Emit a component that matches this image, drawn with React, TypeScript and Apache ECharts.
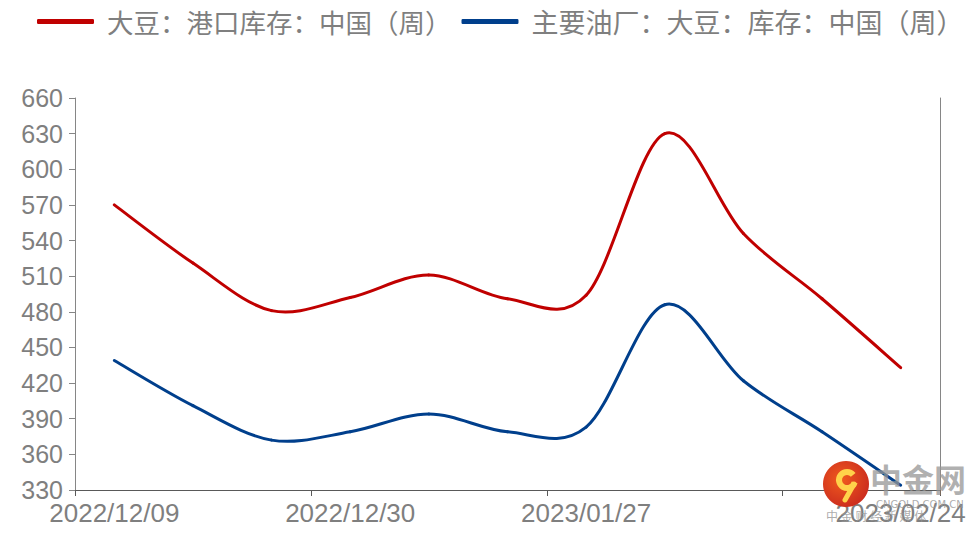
import React, { useEffect, useRef } from "react";
import * as echarts from "echarts";

const categories = [
  "2022/12/09", "2022/12/16", "2022/12/23", "2022/12/30", "2023/01/06",
  "2023/01/13", "2023/01/27", "2023/02/03", "2023/02/10", "2023/02/17", "2023/02/24",
];
const portStock = [570, 521, 481, 492, 511, 491, 494, 630, 546, 491, 433];
const millStock = [439, 401, 372, 379, 394, 379, 383, 486, 422, 379, 334];
const seriesNames = ["大豆：港口库存：中国（周）", "主要油厂：大豆：库存：中国（周）"];
const seriesColors = ["#C00000", "#003F8C"];
const labelIndexes = [0, 3, 6, 10];
const yMin = 330;
const yMax = 660;
const yStep = 30;

const axisFont = "'Liberation Sans', Arial, sans-serif";
const cjkFont = "'Noto Sans CJK SC', sans-serif";

// Smooth curve segment (Catmull-Rom style) between point i-1 and i, positioned by the axes
function makeRenderItem(values: number[], color: string) {
  return (params: any, api: any) => {
    const i = params.dataIndex;
    if (i === 0) return null;
    const n = values.length;
    const p = (k: number) => {
      const kk = Math.max(0, Math.min(n - 1, k));
      return api.coord([kk, values[kk]]);
    };
    const p0 = p(i - 2);
    const p1 = p(i - 1);
    const p2 = p(i);
    const p3 = p(i + 1);
    return {
      type: "bezierCurve",
      shape: {
        x1: p1[0],
        y1: p1[1],
        x2: p2[0],
        y2: p2[1],
        cpx1: p1[0] + (p2[0] - p0[0]) / 6,
        cpy1: p1[1] + (p2[1] - p0[1]) / 6,
        cpx2: p2[0] - (p3[0] - p1[0]) / 6,
        cpy2: p2[1] - (p3[1] - p1[1]) / 6,
      },
      style: { stroke: color, lineWidth: 3, fill: "none", lineCap: "round" },
    };
  };
}

export default function App() {
  const ref = useRef<HTMLDivElement>(null);
  useEffect(() => {
    document.body.style.margin = "0";
    if (!ref.current) return;
    const chart = echarts.init(ref.current, null, { renderer: "svg" });
    chart.setOption({
      animation: false,
      backgroundColor: "#ffffff",
      color: seriesColors,
      legend: {
        left: 37,
        top: 8,
        width: 943,
        padding: 0,
        icon: "roundRect",
        itemWidth: 57,
        itemHeight: 5,
        itemGap: 10,
        data: [
          { name: seriesNames[0], textStyle: { fontSize: 26.5 } },
          { name: seriesNames[1], textStyle: { fontSize: 27 } },
        ],
        textStyle: {
          fontFamily: cjkFont,
          fontSize: 26.5,
          color: "#7F7F7F",
          padding: [0, 0, 0, 8],
        },
      },
      grid: { left: 75, right: 40, top: 98, bottom: 43, containLabel: false },
      xAxis: {
        type: "category",
        data: categories,
        boundaryGap: true,
        axisLine: { show: true, lineStyle: { color: "#595959", width: 1 } },
        axisTick: {
          show: true,
          length: 6,
          interval: (i: number) => i % 3 === 0,
          lineStyle: { color: "#595959" },
        },
        axisLabel: {
          interval: (i: number) => labelIndexes.indexOf(i) >= 0,
          color: "#7F7F7F",
          fontFamily: axisFont,
          fontSize: 26,
          margin: 10,
          showMaxLabel: true,
        },
        splitLine: { show: false },
      },
      yAxis: [
        {
          type: "value",
          min: yMin,
          max: yMax,
          interval: yStep,
          axisLine: { show: true, lineStyle: { color: "#868686" } },
          axisTick: { show: true, length: 6, lineStyle: { color: "#868686" } },
          axisLabel: {
            color: "#7F7F7F",
            fontFamily: axisFont,
            fontSize: 25,
            margin: 12,
          },
          splitLine: { show: false },
        },
        {
          type: "value",
          position: "right",
          min: yMin,
          max: yMax,
          interval: yStep,
          axisLine: { show: true, lineStyle: { color: "#868686" } },
          axisTick: { show: false },
          axisLabel: { show: false },
          splitLine: { show: false },
        },
      ],
      series: [
        {
          name: seriesNames[0],
          type: "custom",
          data: portStock.map((v, i) => [i, v]),
          encode: { x: 0, y: 1 },
          itemStyle: { color: seriesColors[0] },
          renderItem: makeRenderItem(portStock, seriesColors[0]),
        },
        {
          name: seriesNames[1],
          type: "custom",
          data: millStock.map((v, i) => [i, v]),
          encode: { x: 0, y: 1 },
          itemStyle: { color: seriesColors[1] },
          renderItem: makeRenderItem(millStock, seriesColors[1]),
        },
      ],
      graphic: [
        {
          type: "circle",
          shape: { cx: 846, cy: 484, r: 23 },
          style: {
            fill: new echarts.graphic.RadialGradient(0.4, 0.4, 0.7, [
              { offset: 0, color: "#F05A1E" },
              { offset: 1, color: "#C8281E" },
            ]),
          },
          z: 100,
        },
        {
          type: "arc",
          shape: { cx: 847, cy: 480, r: 8, startAngle: 0.3, endAngle: 5.6 },
          style: { stroke: "#FFD24A", lineWidth: 6, fill: "none" },
          z: 101,
        },
        {
          type: "line",
          shape: { x1: 854, y1: 484, x2: 845, y2: 500 },
          style: { stroke: "#FFD24A", lineWidth: 5, lineCap: "round" },
          z: 101,
        },
        {
          type: "text",
          x: 870,
          y: 462,
          style: {
            text: "中金网",
            fontFamily: cjkFont,
            fontSize: 32,
            fontWeight: "bold",
            fill: "rgba(150,150,150,0.75)",
          },
          z: 100,
        },
        {
          type: "text",
          x: 876,
          y: 499,
          style: {
            text: "CNGOLD.COM.CN",
            fontFamily: "'DejaVu Sans', sans-serif",
            fontSize: 10,
            fill: "rgba(150,150,150,0.8)",
          },
          z: 100,
        },
        {
          type: "text",
          x: 826,
          y: 509,
          style: {
            text: "中 金 财 经 新 媒 体",
            fontFamily: cjkFont,
            fontSize: 12,
            fill: "rgba(150,150,150,0.8)",
          },
          z: 100,
        },
      ],
    });
    return () => chart.dispose();
  }, []);
  return <div ref={ref} style={{ width: 980, height: 533 }} />;
}
